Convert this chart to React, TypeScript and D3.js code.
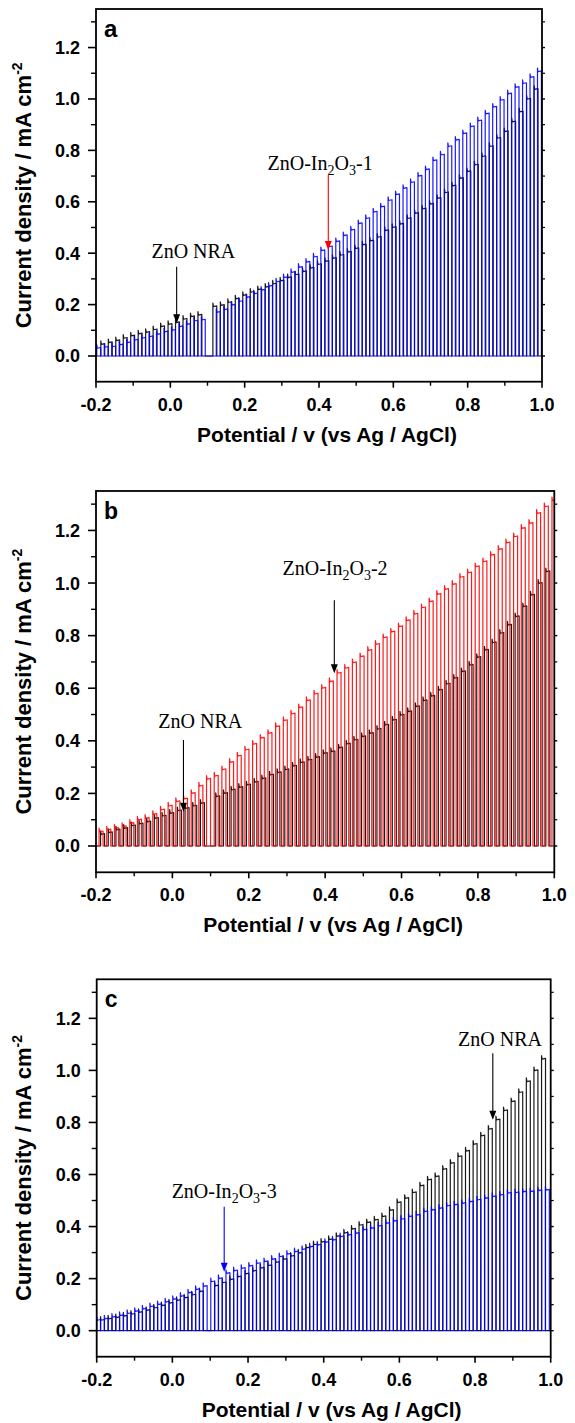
import React from 'react';
import * as d3 from 'd3';

// ---------- data (pulse top values, mA cm^-2) ----------
const PERIOD = 0.0201; // V per light on/off cycle
const ON = 0.0105; // V of light-on per cycle

const X_TICKS = [-0.2, 0.0, 0.2, 0.4, 0.6, 0.8, 1.0];
const X_MINOR = [-0.1, 0.1, 0.3, 0.5, 0.7, 0.9];
const Y_TICKS = [0.0, 0.2, 0.4, 0.6, 0.8, 1.0, 1.2];
const Y_MINOR = [0.1, 0.3, 0.5, 0.7, 0.9, 1.1, 1.3];

// panel a
const A_ZNO_START = -0.187;
const A_ZNO = [0.045, 0.052, 0.060, 0.069, 0.078, 0.086, 0.092, 0.102, 0.114, 0.123, 0.130, 0.143, 0.153, 0.159, null, 0.192, 0.197, 0.208, 0.222, 0.236, 0.248, 0.258, 0.268, 0.280, 0.292, 0.305, 0.316, 0.328, 0.342, 0.356, 0.368, 0.380, 0.392, 0.404, 0.418, 0.432, 0.448, 0.462, 0.488, 0.500, 0.513, 0.535, 0.555, 0.572, 0.591, 0.613, 0.635, 0.662, 0.691, 0.717, 0.743, 0.776, 0.815, 0.847, 0.873, 0.911, 0.950, 0.999, 1.037];
const A_IN1_START = -0.198;
const A_IN1 = [0.030, 0.034, 0.036, 0.043, 0.052, 0.062, 0.069, 0.075, 0.084, 0.094, 0.100, 0.114, 0.123, 0.136, 0.140, null, 0.170, 0.180, 0.198, 0.212, 0.228, 0.242, 0.256, 0.272, 0.288, 0.305, 0.325, 0.345, 0.365, 0.385, 0.410, 0.425, 0.445, 0.468, 0.490, 0.515, 0.535, 0.560, 0.580, 0.605, 0.628, 0.652, 0.675, 0.700, 0.725, 0.760, 0.782, 0.815, 0.840, 0.865, 0.892, 0.915, 0.942, 0.968, 0.995, 1.020, 1.045, 1.060, 1.084, 1.106];

// panel b
const B_ZNO_START = -0.188;
const B_ZNO = [0.044, 0.051, 0.061, 0.067, 0.077, 0.084, 0.092, 0.105, 0.114, 0.124, 0.134, 0.143, 0.152, 0.162, null, 0.188, 0.200, 0.213, 0.223, 0.232, 0.243, 0.256, 0.270, 0.279, 0.290, 0.304, 0.317, 0.327, 0.337, 0.352, 0.359, 0.373, 0.388, 0.403, 0.416, 0.428, 0.444, 0.460, 0.479, 0.498, 0.511, 0.530, 0.553, 0.570, 0.593, 0.616, 0.638, 0.663, 0.688, 0.717, 0.745, 0.773, 0.809, 0.840, 0.872, 0.910, 0.954, 0.999, 1.043];
const B_IN2_START = -0.192;
const B_IN2 = [0.054, 0.061, 0.067, 0.074, 0.086, 0.099, 0.105, 0.120, 0.137, 0.152, 0.169, 0.179, 0.200, 0.228, 0.254, 0.266, 0.290, 0.318, 0.342, 0.365, 0.387, 0.410, 0.428, 0.454, 0.477, 0.502, 0.526, 0.553, 0.578, 0.600, 0.625, 0.657, 0.676, 0.697, 0.720, 0.744, 0.767, 0.792, 0.814, 0.834, 0.857, 0.882, 0.906, 0.929, 0.957, 0.976, 0.995, 1.022, 1.039, 1.062, 1.081, 1.106, 1.128, 1.153, 1.176, 1.208, 1.227, 1.265, 1.290, 1.313];

// panel c
const C_ZNO_START = -0.19;
const C_ZNO = [0.040, 0.045, 0.050, 0.056, 0.063, 0.070, 0.078, 0.087, 0.096, 0.106, 0.116, 0.126, 0.137, 0.150, null, 0.172, 0.184, 0.196, 0.207, 0.218, 0.229, 0.240, 0.250, 0.262, 0.274, 0.286, 0.298, 0.318, 0.330, 0.340, 0.350, 0.362, 0.375, 0.390, 0.405, 0.415, 0.425, 0.438, 0.462, 0.492, 0.508, 0.530, 0.556, 0.579, 0.592, 0.620, 0.643, 0.669, 0.690, 0.716, 0.748, 0.774, 0.810, 0.845, 0.880, 0.915, 0.957, 0.999, 1.043];
const C_IN3_START = -0.2;
const C_IN3 = [0.040, 0.045, 0.052, 0.058, 0.066, 0.074, 0.083, 0.092, 0.100, 0.110, 0.120, 0.132, 0.145, 0.158, 0.170, 0.188, 0.200, 0.220, 0.230, 0.239, 0.248, 0.258, 0.265, 0.274, 0.284, 0.294, 0.303, 0.312, 0.322, 0.329, 0.339, 0.348, 0.361, 0.367, 0.374, 0.387, 0.393, 0.402, 0.412, 0.421, 0.428, 0.438, 0.444, 0.457, 0.463, 0.470, 0.479, 0.483, 0.489, 0.495, 0.502, 0.508, 0.515, 0.521, 0.528, 0.530, 0.533, 0.534, 0.538, 0.540];

const X_TITLE = 'Potential / v (vs Ag / AgCl)';
const Y_TITLE = 'Current density / mA cm';

// ---------- layout ----------
const W = 575;
const H = 1423;
const X_DOMAIN: [number, number] = [-0.2, 1.0];
const Y_DOMAIN: [number, number] = [-0.1, 1.35];
const SANS = '"Liberation Sans", Arial, Helvetica, sans-serif';
const SERIF = '"Liberation Serif", "Times New Roman", Times, serif';
const BLACK = '#000000';
const BLUE = '#0000ff';
const RED = '#ff0000';

type Series = { values: (number | null)[]; start: number; color: string };
type Annot = { parts: { t: string; sub?: boolean }[]; tx: number; ty: number; ax: number; ay0: number; ay1: number; color: string };
type Panel = { id: string; letter: string; letterSize: number; left: number; right: number; top: number; bottom: number; series: Series[]; annots: Annot[] };

const PANELS: Panel[] = [
  {
    id: 'a', letter: 'a', letterSize: 24, left: 96, right: 542, top: 9, bottom: 381.7,
    series: [
      { values: A_ZNO, start: A_ZNO_START, color: BLACK },
      { values: A_IN1, start: A_IN1_START, color: BLUE },
    ],
    annots: [
      { parts: [{ t: 'ZnO NRA' }], tx: 0.062, ty: 0.381, ax: 0.017, ay0: 0.347, ay1: 0.127, color: BLACK },
      { parts: [{ t: 'ZnO-In' }, { t: '2', sub: true }, { t: 'O' }, { t: '3', sub: true }, { t: '-1' }], tx: 0.403, ty: 0.724, ax: 0.425, ay0: 0.704, ay1: 0.412, color: RED },
    ],
  },
  {
    id: 'b', letter: 'b', letterSize: 23, left: 96, right: 554.3, top: 491, bottom: 872.3,
    series: [
      { values: B_ZNO, start: B_ZNO_START, color: BLACK },
      { values: B_IN2, start: B_IN2_START, color: RED },
    ],
    annots: [
      { parts: [{ t: 'ZnO-In' }, { t: '2', sub: true }, { t: 'O' }, { t: '3', sub: true }, { t: '-2' }], tx: 0.426, ty: 1.03, ax: 0.424, ay0: 0.935, ay1: 0.657, color: BLACK },
      { parts: [{ t: 'ZnO NRA' }], tx: 0.073, ty: 0.448, ax: 0.029, ay0: 0.403, ay1: 0.13, color: BLACK },
    ],
  },
  {
    id: 'c', letter: 'c', letterSize: 23, left: 96.7, right: 550.7, top: 979.3, bottom: 1356.7,
    series: [
      { values: C_ZNO, start: C_ZNO_START, color: BLACK },
      { values: C_IN3, start: C_IN3_START, color: BLUE },
    ],
    annots: [
      { parts: [{ t: 'ZnO NRA' }], tx: 0.866, ty: 1.092, ax: 0.847, ay0: 1.066, ay1: 0.81, color: BLACK },
      { parts: [{ t: 'ZnO-In' }, { t: '2', sub: true }, { t: 'O' }, { t: '3', sub: true }, { t: '-3' }], tx: 0.137, ty: 0.508, ax: 0.137, ay0: 0.476, ay1: 0.226, color: BLUE },
    ],
  },
];

function pulsePath(s: Series, x: d3.ScaleLinear<number, number>, y: d3.ScaleLinear<number, number>) {
  const pts: [number, number][] = [[X_DOMAIN[0], 0]];
  s.values.forEach((v, i) => {
    if (v == null) return;
    const t0 = s.start + i * PERIOD;
    const t1 = t0 + ON;
    pts.push([t0, 0], [t0, v + 0.014], [t0 + 0.0015, v], [t1, v + 0.003], [t1, 0]);
  });
  pts.push([X_DOMAIN[1], 0]);
  return d3
    .line<[number, number]>()
    .x((d) => x(d[0]))
    .y((d) => y(d[1]))(pts) || '';
}

function PanelView({ p }: { p: Panel }) {
  const x = d3.scaleLinear().domain(X_DOMAIN).range([p.left, p.right]);
  const y = d3.scaleLinear().domain(Y_DOMAIN).range([p.bottom, p.top]);
  const clipId = 'clip-' + p.id;
  const cy = (p.top + p.bottom) / 2;
  const cx = (p.left + p.right) / 2 + 8;
  return (
    <g>
      <defs>
        <clipPath id={clipId}>
          <rect x={p.left} y={p.top} width={p.right - p.left} height={p.bottom - p.top} />
        </clipPath>
      </defs>
      <g clipPath={`url(#${clipId})`}>
        {p.series.map((s, k) => (
          <path key={k} d={pulsePath(s, x, y)} fill="none" stroke={s.color} strokeWidth={1.2} strokeOpacity={0.9} strokeLinejoin="round" />
        ))}
      </g>
      {/* frame */}
      <rect x={p.left} y={p.top} width={p.right - p.left} height={p.bottom - p.top} fill="none" stroke="#000" strokeWidth={1.8} />
      {/* y ticks left */}
      {Y_TICKS.map((t) => (
        <g key={'yt' + t}>
          <line x1={p.left - 8} x2={p.left} y1={y(t)} y2={y(t)} stroke="#000" strokeWidth={1.6} />
          <line x1={p.right} x2={p.right + 3} y1={y(t)} y2={y(t)} stroke="#000" strokeWidth={1.4} />
          <text x={p.left - 16} y={y(t)} dy="0.36em" textAnchor="end" fontFamily={SANS} fontWeight="bold" fontSize={18}>
            {t.toFixed(1)}
          </text>
        </g>
      ))}
      {Y_MINOR.map((t) => (
        <g key={'ym' + t}>
          <line x1={p.left - 5} x2={p.left} y1={y(t)} y2={y(t)} stroke="#000" strokeWidth={1.4} />
          <line x1={p.right} x2={p.right + 3} y1={y(t)} y2={y(t)} stroke="#000" strokeWidth={1.2} />
        </g>
      ))}
      {/* x ticks */}
      {X_TICKS.map((t) => (
        <g key={'xt' + t}>
          <line x1={x(t)} x2={x(t)} y1={p.bottom} y2={p.bottom + 6} stroke="#000" strokeWidth={1.6} />
          <text x={x(t)} y={p.bottom + 29} textAnchor="middle" fontFamily={SANS} fontWeight="bold" fontSize={18}>
            {t.toFixed(1)}
          </text>
        </g>
      ))}
      {X_MINOR.map((t) => (
        <line key={'xm' + t} x1={x(t)} x2={x(t)} y1={p.bottom} y2={p.bottom + 4} stroke="#000" strokeWidth={1.4} />
      ))}
      {/* titles */}
      <text x={cx} y={p.bottom + 60} textAnchor="middle" fontFamily={SANS} fontWeight="bold" fontSize={21}>
        {X_TITLE}
      </text>
      <text transform={`translate(31,${cy}) rotate(-90)`} textAnchor="middle" fontFamily={SANS} fontWeight="bold" fontSize={22}>
        {Y_TITLE}
        <tspan fontSize={14} dy={-9}>-2</tspan>
      </text>
      {/* panel letter */}
      <text x={p.left + 8} y={p.top + 28} fontFamily={SANS} fontWeight="bold" fontSize={p.letterSize}>
        {p.letter}
      </text>
      {/* annotations */}
      {p.annots.map((a, k) => {
        const ax = x(a.ax);
        const y0 = y(a.ay0);
        const y1 = y(a.ay1);
        return (
          <g key={'an' + k}>
            <text x={x(a.tx)} y={y(a.ty)} textAnchor="middle" fontFamily={SERIF} fontSize={20} fill="#000">
              {a.parts.map((pt, j) =>
                pt.sub ? (
                  <tspan key={j} fontSize={14} dy={5}>{pt.t}</tspan>
                ) : (
                  <tspan key={j} dy={j > 0 && a.parts[j - 1].sub ? -5 : 0}>{pt.t}</tspan>
                )
              )}
            </text>
            <line x1={ax} x2={ax} y1={y0} y2={y1 - 7} stroke={a.color} strokeWidth={1.1} />
            <path d={`M${ax},${y1} L${ax - 3.5},${y1 - 9} L${ax + 3.5},${y1 - 9} Z`} fill={a.color} />
          </g>
        );
      })}
    </g>
  );
}

export default function App() {
  return (
    <svg width={W} height={H} viewBox={`0 0 ${W} ${H}`} style={{ position: 'absolute', left: 0, top: 0, background: '#fff' }}>
      <rect x={0} y={0} width={W} height={H} fill="#fff" />
      {PANELS.map((p) => (
        <PanelView key={p.id} p={p} />
      ))}
    </svg>
  );
}
